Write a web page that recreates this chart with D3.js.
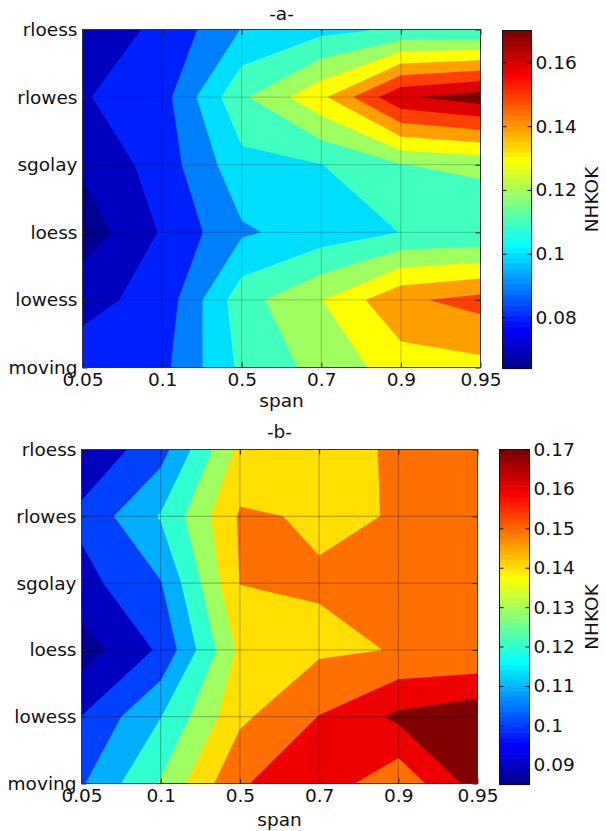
<!DOCTYPE html>
<html lang="en">
<head>
<meta charset="UTF-8">
<title>NHKOK contours</title>
<script src="https://cdn.jsdelivr.net/npm/d3@7"></script>
<style>
  body { margin: 0; background: #fff; }
  text { font-family: "DejaVu Sans", "Liberation Sans", Arial, sans-serif; fill: #111; }
</style>
</head>
<body>
<svg id="fig" width="606" height="831"></svg>
<script>
// categories
const spans = ["0.05", "0.1", "0.5", "0.7", "0.9", "0.95"];
const methods = ["rloess", "rlowes", "sgolay", "loess", "lowess", "moving"];

// NHKOK, one row per method (top to bottom), one column per span
const nhkokA = [
  [0.0750, 0.0818, 0.1004, 0.1070, 0.1113, 0.1105],
  [0.0792, 0.0860, 0.1184, 0.1377, 0.1685, 0.1755],
  [0.0715, 0.0845, 0.1068, 0.1098, 0.1197, 0.1225],
  [0.0640, 0.0810, 0.0986, 0.1044, 0.1102, 0.1110],
  [0.0770, 0.0835, 0.1160, 0.1298, 0.1481, 0.1535],
  [0.0847, 0.0873, 0.1123, 0.1233, 0.1349, 0.1369]
];
const nhkokB = [
  [0.0920, 0.1060, 0.1430, 0.1480, 0.1507, 0.1550],
  [0.1025, 0.1209, 0.1512, 0.1490, 0.1503, 0.1550],
  [0.0964, 0.1095, 0.1502, 0.1507, 0.1540, 0.1550],
  [0.0850, 0.1017, 0.1424, 0.1484, 0.1504, 0.1505],
  [0.1002, 0.1198, 0.1479, 0.1603, 0.1722, 0.1775],
  [0.1089, 0.1311, 0.1591, 0.1661, 0.1525, 0.1745]
];

// contour levels and colorbar ticks
const levelsA = [0.07, 0.08, 0.09, 0.10, 0.11, 0.12, 0.13, 0.14, 0.15, 0.16, 0.17];
const levelsB = [0.09, 0.10, 0.11, 0.12, 0.13, 0.14, 0.15, 0.16, 0.17];
const ticksA = [0.08, 0.10, 0.12, 0.14, 0.16];
const ticksB = [0.09, 0.10, 0.11, 0.12, 0.13, 0.14, 0.15, 0.16, 0.17];

// matlab jet(64)
function jetU(j) {
  if (j < 1 || j > 47) return 0;
  if (j <= 16) return j / 16;
  if (j <= 31) return 1;
  return (48 - j) / 16;
}
const jet64 = d3.range(1, 65).map(k =>
  d3.rgb(255 * jetU(k - 24), 255 * jetU(k - 8), 255 * jetU(k + 8)).formatHex());

const svg = d3.select("#fig");
const FS = 18.5;

const panels = [
  { id: "a", title: "-a-", data: nhkokA, levels: levelsA, ticks: ticksA,
    plot: { left: 82.5, right: 480.5, top: 29.5, bottom: 367.5 },
    bar: { left: 502.5, right: 531.5, top: 30.5, bottom: 368.5 },
    titleY: 20, spanDy: 39, gridAlpha: 0.22 },
  { id: "b", title: "-b-", data: nhkokB, levels: levelsB, ticks: ticksB,
    plot: { left: 81.5, right: 477.5, top: 449.5, bottom: 783.5 },
    bar: { left: 499.5, right: 529.5, top: 449.5, bottom: 784.5 },
    titleY: 438, spanDy: 42, gridAlpha: 0.32 }
];

panels.forEach(drawPanel);

function drawPanel(p) {
  const g = svg.append("g");
  const box = p.plot;

  const x = d3.scalePoint().domain(spans).range([box.left, box.right]);
  const y = d3.scalePoint().domain(methods).range([box.top, box.bottom]);

  const flat = p.data.flat();
  const vmin = d3.min(flat);
  const colour = d3.scaleQuantize()
    .domain([vmin, p.levels[p.levels.length - 1]])
    .range(jet64);

  // d3.contours puts grid value i at i + 0.5
  const gx = d3.scaleLinear().domain([0.5, spans.length - 0.5]).range(x.range());
  const gy = d3.scaleLinear().domain([0.5, methods.length - 0.5]).range(y.range());
  const path = d3.geoPath(d3.geoTransform({
    point(a, b) { this.stream.point(gx(a), gy(b)); }
  }));

  const clipId = "clip-" + p.id;
  g.append("clipPath").attr("id", clipId)
    .append("rect")
      .attr("x", box.left).attr("y", box.top)
      .attr("width", box.right - box.left).attr("height", box.bottom - box.top);

  const fills = g.append("g").attr("clip-path", `url(#${clipId})`);
  // lowest patch (min value)
  fills.append("rect")
    .attr("x", box.left).attr("y", box.top)
    .attr("width", box.right - box.left).attr("height", box.bottom - box.top)
    .attr("fill", colour(vmin));

  const bands = d3.contours()
    .size([spans.length, methods.length])
    .thresholds(p.levels)(flat);

  fills.selectAll("path.band")
    .data(bands)
    .join("path")
      .attr("class", "band")
      .attr("d", path)
      .attr("fill", d => colour(d.value));

  // grid
  g.append("g")
    .selectAll("line")
    .data(spans.slice(1, -1))
    .join("line")
      .attr("x1", d => x(d)).attr("x2", d => x(d))
      .attr("y1", box.top).attr("y2", box.bottom)
      .attr("stroke", "#000").attr("stroke-opacity", p.gridAlpha);
  g.append("g")
    .selectAll("line")
    .data(methods.slice(1, -1))
    .join("line")
      .attr("y1", d => y(d)).attr("y2", d => y(d))
      .attr("x1", box.left).attr("x2", box.right)
      .attr("stroke", "#000").attr("stroke-opacity", p.gridAlpha);

  // axes, ticks pointing inward
  const axB = g.append("g").attr("transform", `translate(0,${box.bottom})`)
    .call(d3.axisBottom(x).tickSizeInner(-5).tickSizeOuter(0).tickPadding(5));
  const axL = g.append("g").attr("transform", `translate(${box.left},0)`)
    .call(d3.axisLeft(y).tickSizeInner(-5).tickSizeOuter(0).tickPadding(5));
  g.append("g").attr("transform", `translate(0,${box.top})`)
    .call(d3.axisTop(x).tickSizeInner(-5).tickSizeOuter(0).tickFormat(""));
  g.append("g").attr("transform", `translate(${box.right},0)`)
    .call(d3.axisRight(y).tickSizeInner(-5).tickSizeOuter(0).tickFormat(""));
  g.selectAll(".domain").remove();
  g.selectAll(".tick line").attr("stroke", "#222");
  [axB, axL].forEach(a => a.attr("font-size", FS).attr("font-family", null));

  g.append("rect")
    .attr("x", box.left).attr("y", box.top)
    .attr("width", box.right - box.left).attr("height", box.bottom - box.top)
    .attr("fill", "none").attr("stroke", "#333");

  // titles
  const midX = (box.left + box.right) / 2;
  g.append("text").attr("x", midX).attr("y", p.titleY)
    .attr("text-anchor", "middle").attr("font-size", FS).text(p.title);
  g.append("text").attr("x", midX).attr("y", box.bottom + p.spanDy)
    .attr("text-anchor", "middle").attr("font-size", FS).text("span");

  // colorbar
  const bar = p.bar;
  const cy = d3.scaleLinear().domain(colour.domain()).range([bar.bottom, bar.top]);
  const [d0, d1] = colour.domain();
  const dv = (d1 - d0) / jet64.length;
  g.append("g")
    .selectAll("rect")
    .data(jet64)
    .join("rect")
      .attr("x", bar.left)
      .attr("width", bar.right - bar.left)
      .attr("y", (c, i) => cy(d0 + (i + 1) * dv))
      .attr("height", (c, i) => cy(d0 + i * dv) - cy(d0 + (i + 1) * dv) + 0.6)
      .attr("fill", c => c);

  const fmt = d3.format("~g");
  const axC = g.append("g").attr("transform", `translate(${bar.right},0)`)
    .call(d3.axisRight(cy).tickValues(p.ticks).tickFormat(fmt)
      .tickSizeInner(-4).tickSizeOuter(0).tickPadding(4));
  axC.attr("font-size", FS).attr("font-family", null);
  axC.select(".domain").remove();
  axC.selectAll(".tick line").attr("stroke", "#111");
  g.append("g").attr("transform", `translate(${bar.left},0)`)
    .call(d3.axisLeft(cy).tickValues(p.ticks).tickFormat("")
      .tickSizeInner(-4).tickSizeOuter(0))
    .call(a => a.select(".domain").remove())
    .selectAll(".tick line").attr("stroke", "#111");

  g.append("rect")
    .attr("x", bar.left).attr("y", bar.top)
    .attr("width", bar.right - bar.left).attr("height", bar.bottom - bar.top)
    .attr("fill", "none").attr("stroke", "#111");

  const labX = 591, labY = (bar.top + bar.bottom) / 2;
  g.append("text")
    .attr("transform", `translate(${labX},${labY}) rotate(-90)`)
    .attr("text-anchor", "middle").attr("dominant-baseline", "central")
    .attr("font-size", FS).text("NHKOK");
}
</script>
</body>
</html>
